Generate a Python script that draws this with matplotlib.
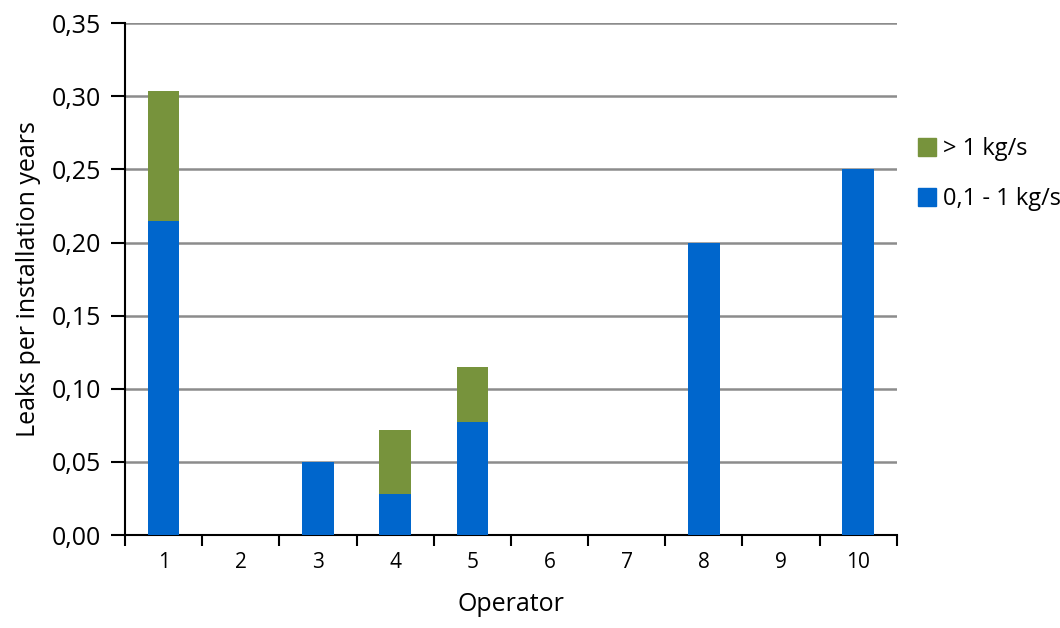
import numpy as np
import matplotlib.pyplot as plt
from matplotlib.patches import Patch

plt.rcParams['font.family'] = ['Open Sans', 'DejaVu Sans']

operators = ['1', '2', '3', '4', '5', '6', '7', '8', '9', '10']
small_leaks = [0.215, 0, 0.05, 0.028, 0.077, 0, 0, 0.20, 0, 0.25]
large_leaks = [0.089, 0, 0, 0.044, 0.038, 0, 0, 0, 0, 0]

blue = '#0066CC'
green = '#77933C'

fig = plt.figure(figsize=(10.6, 6.28), dpi=100)
ax = fig.add_axes([0.118, 0.148, 0.728, 0.815])

x = np.arange(len(operators))
ax.bar(x, small_leaks, width=0.41, color=blue, zorder=3)
ax.bar(x, large_leaks, width=0.41, bottom=small_leaks, color=green, zorder=3)

ax.set_xlim(-0.5, len(operators) - 0.5)
ax.set_ylim(0, 0.35)
yt = np.arange(0, 0.351, 0.05)
ax.set_yticks(yt)
ax.set_yticklabels([f'{v:.2f}'.replace('.', ',') for v in yt], fontsize=18)
ax.yaxis.grid(True, color='#8c8c8c', linewidth=1.8, zorder=0)

ax.set_xticks(x)
ax.set_xticklabels(operators, fontsize=15)
ax.tick_params(axis='x', length=0, pad=12)
ax.set_xticks(np.arange(-0.5, len(operators)), minor=True)
ax.tick_params(axis='x', which='minor', length=8, width=1.5, direction='out')
ax.tick_params(axis='y', length=10, width=1.5, direction='out', pad=7)

for side in ['top', 'right']:
    ax.spines[side].set_visible(False)
ax.spines['left'].set_linewidth(1.5)
ax.spines['bottom'].set_linewidth(1.5)

ax.set_xlabel('Operator', fontsize=18, labelpad=14)
ax.set_ylabel('Leaks per installation years', fontsize=18, labelpad=8)

handles = [Patch(color=green, label='> 1 kg/s'), Patch(color=blue, label='0,1 - 1 kg/s')]
ax.legend(handles=handles, loc='center left', bbox_to_anchor=(1.0, 0.705),
          frameon=False, fontsize=17, handlelength=0.75, handleheight=0.75,
          handletextpad=0.3, labelspacing=1.1)

fig.savefig('out.png', dpi=100)
